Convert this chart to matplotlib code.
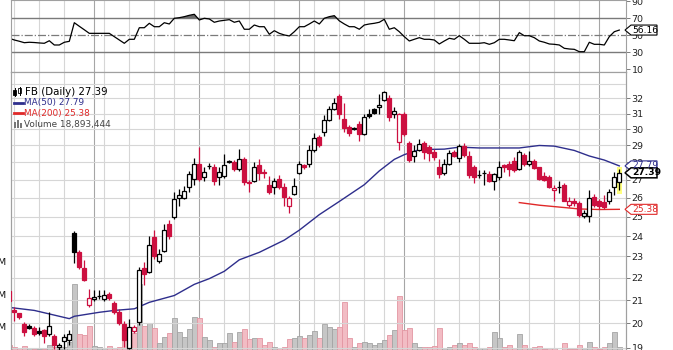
import numpy as np
import matplotlib
matplotlib.use('Agg')
import matplotlib.pyplot as plt
from matplotlib.patches import Polygon, Rectangle
from matplotlib.transforms import IdentityTransform
from matplotlib.ticker import NullLocator

# FB daily bars, Oct 5 2012 .. Apr 5 2013 (first bar sits half off the left edge)
day = list(range(-1, 122))

opens = [21.40, 20.55, 20.43, 19.97, 19.90, 19.80, 19.70, 19.74, 19.55, 19.50,
         19.05, 19.27, 19.32, 24.15, 23.20, 22.45, 20.80, 21.05, 21.20, 21.05,
         21.25, 20.88, 20.50, 19.98, 19.00, 19.68, 20.05, 22.45, 22.27, 23.95,
         22.80, 23.27, 24.60, 25.00, 26.00, 26.00, 26.60, 27.05, 27.90, 27.15,
         27.78, 27.75, 27.15, 27.20, 28.02, 28.00, 27.60, 28.20, 26.87, 26.95,
         27.85, 27.42, 26.70, 26.60, 27.05, 26.60, 25.55, 26.20, 27.40, 27.85,
         27.90, 28.75, 29.50, 29.80, 30.60, 31.30, 32.15, 30.65, 30.15, 30.08,
         30.30, 29.70, 31.00, 31.30, 31.40, 31.90, 32.00, 30.95, 29.20, 31.00,
         29.15, 28.35, 28.75, 29.15, 28.90, 28.60, 27.70, 27.40, 27.90, 28.60,
         28.25, 28.95, 28.35, 27.70, 27.25, 27.40, 27.35, 26.90, 27.15, 27.85,
         27.90, 28.10, 27.60, 28.45, 27.92, 28.08, 27.70, 27.20, 27.15, 26.40,
         26.58, 26.70, 25.63, 25.80, 25.70, 25.05, 25.05, 26.05, 25.80, 25.76,
         25.85, 26.60, 26.87]
highs = [21.45, 20.70, 20.45, 20.05, 19.97, 19.90, 19.85, 19.78, 20.47, 19.55,
         19.20, 19.55, 19.72, 24.25, 23.30, 22.85, 21.50, 21.45, 21.45, 21.45,
         21.35, 20.95, 20.60, 20.10, 20.20, 19.95, 22.50, 22.75, 24.00, 24.30,
         23.35, 24.60, 24.80, 26.30, 26.50, 26.62, 27.50, 28.25, 28.90, 27.70,
         27.95, 27.90, 27.75, 28.50, 28.15, 28.15, 28.80, 28.30, 27.00, 28.00,
         28.20, 27.60, 27.20, 27.10, 27.25, 26.80, 26.10, 27.10, 28.10, 27.90,
         29.05, 29.76, 29.65, 30.90, 31.50, 32.00, 32.30, 31.70, 30.25, 30.12,
         30.50, 31.00, 31.30, 31.35, 32.30, 32.50, 32.20, 31.40, 31.05, 31.10,
         29.30, 29.00, 29.40, 29.30, 29.00, 28.80, 28.20, 28.20, 28.70, 28.75,
         29.10, 29.15, 28.65, 27.85, 27.55, 27.55, 27.50, 27.40, 28.10, 27.90,
         28.10, 28.30, 28.70, 28.55, 28.69, 28.20, 27.75, 27.45, 27.25, 26.70,
         26.90, 26.80, 26.05, 26.00, 25.85, 25.35, 26.42, 26.20, 25.95, 26.17,
         26.50, 27.45, 27.60]
lows = [20.90, 20.10, 20.18, 19.50, 19.78, 19.50, 19.52, 19.20, 19.50, 18.95,
        18.90, 18.95, 19.10, 22.70, 22.40, 21.85, 20.70, 20.98, 21.05, 20.95,
        21.00, 20.40, 19.95, 19.05, 18.95, 19.60, 19.95, 21.65, 22.20, 22.90,
        22.70, 23.20, 23.85, 24.85, 25.55, 25.95, 26.30, 26.70, 26.95, 26.90,
        27.60, 26.70, 26.70, 27.10, 27.95, 27.50, 27.50, 26.70, 26.30, 26.85,
        27.00, 27.10, 26.20, 26.20, 26.50, 25.57, 25.20, 26.15, 27.35, 27.60,
        27.70, 28.60, 28.90, 29.60, 30.50, 31.20, 30.65, 29.85, 29.55, 29.95,
        29.25, 29.65, 30.70, 30.95, 31.00, 31.85, 30.50, 30.70, 28.70, 29.60,
        28.00, 28.00, 28.65, 28.20, 28.10, 28.15, 27.10, 27.25, 27.85, 28.30,
        28.00, 28.30, 27.10, 26.80, 27.10, 26.72, 26.85, 26.40, 27.00, 27.45,
        27.20, 27.45, 27.55, 27.80, 27.80, 27.60, 27.00, 26.95, 26.55, 25.85,
        26.25, 25.80, 25.50, 25.55, 25.00, 24.95, 24.70, 25.50, 25.40, 25.40,
        25.65, 26.17, 26.45]
closes = [20.95, 20.50, 20.26, 19.66, 19.82, 19.58, 19.60, 19.47, 19.90, 19.10,
          19.12, 19.45, 19.55, 23.22, 22.50, 21.90, 21.10, 21.15, 21.20, 21.22,
          21.08, 20.50, 20.02, 19.30, 19.86, 19.84, 22.36, 22.17, 23.56, 23.00,
          23.10, 24.32, 24.00, 25.94, 26.15, 26.36, 27.30, 27.90, 27.05, 27.45,
          27.80, 26.95, 27.45, 27.85, 28.05, 27.60, 28.20, 26.85, 26.82, 27.75,
          27.40, 27.38, 26.30, 26.90, 26.60, 26.05, 26.00, 26.65, 27.90, 27.70,
          28.75, 29.45, 29.00, 30.60, 31.30, 31.72, 31.00, 30.10, 29.75, 30.04,
          29.70, 30.80, 30.82, 31.02, 31.55, 32.42, 30.75, 31.15, 31.00, 29.73,
          28.11, 28.69, 29.10, 28.60, 28.55, 28.32, 27.35, 27.88, 28.55, 28.35,
          28.95, 28.45, 27.25, 27.15, 27.25, 27.40, 26.90, 27.30, 27.75, 27.70,
          27.60, 27.58, 28.60, 27.90, 28.10, 27.65, 27.05, 27.00, 26.60, 26.55,
          26.58, 25.85, 25.80, 25.70, 25.10, 25.20, 26.00, 25.63, 25.55, 25.50,
          26.30, 27.15, 27.39]

# volume in millions of shares
volume = [21.8, 19.2, 17.2, 20.3, 16.8, 15.0, 15.0, 15.7, 21.8, 19.2,
          15.7, 19.2, 25.7, 115.0, 39.5, 37.2, 51.0, 20.3, 19.2, 17.2,
          20.3, 17.2, 19.2, 32.6, 32.6, 40.6, 115.0, 51.4, 55.2, 47.5,
          24.5, 33.4, 41.0, 62.9, 42.3, 33.4, 46.5, 64.5, 62.9, 34.6,
          29.5, 19.2, 24.5, 24.5, 39.8, 26.9, 42.3, 46.0, 30.6, 32.2,
          32.2, 21.8, 26.9, 19.2, 16.8, 19.2, 30.6, 32.2, 35.7, 32.2,
          37.2, 43.4, 32.2, 53.7, 50.0, 46.0, 50.0, 88.5, 32.2, 19.2,
          24.5, 26.9, 25.4, 21.8, 24.5, 29.5, 37.2, 44.9, 97.2, 44.9,
          48.5, 24.5, 19.2, 19.2, 19.2, 20.3, 47.5, 17.2, 19.2, 21.8,
          25.4, 21.8, 25.4, 19.2, 16.8, 16.8, 19.2, 42.3, 32.2, 19.2,
          21.8, 16.8, 38.8, 21.8, 16.8, 19.2, 20.3, 15.2, 16.8, 16.8,
          14.2, 24.5, 15.2, 15.2, 21.8, 16.8, 26.9, 19.2, 15.2, 19.2,
          24.5, 41.4, 18.9]

# RSI(14)
rsi = [46.5, 44.5, 43.0, 41.3, 41.8, 41.5, 41.0, 40.6, 43.6, 38.6,
       38.6, 41.8, 42.9, 64.8, 60.6, 56.5, 52.3, 52.3, 52.3, 52.3,
       52.3, 48.4, 44.5, 40.6, 45.3, 45.3, 58.9, 58.9, 64.1, 60.1,
       60.1, 64.8, 63.3, 70.0, 70.7, 71.9, 73.5, 74.7, 68.0, 70.0,
       69.2, 65.3, 66.8, 67.6, 68.4, 65.3, 66.8, 57.1, 57.1, 62.1,
       60.1, 60.1, 51.2, 55.4, 52.3, 50.4, 49.2, 54.2, 60.1, 60.1,
       63.3, 66.8, 63.3, 70.0, 71.9, 73.1, 67.0, 63.3, 60.1, 60.1,
       57.1, 62.1, 63.3, 64.1, 65.3, 68.8, 57.1, 58.9, 54.2, 48.4,
       43.3, 45.3, 47.2, 45.3, 45.3, 44.5, 39.8, 43.3, 46.5, 45.3,
       49.5, 45.3, 40.6, 40.6, 40.6, 41.3, 39.4, 41.3, 45.3, 45.3,
       44.5, 43.6, 53.1, 49.5, 49.5, 47.2, 43.3, 41.8, 39.8, 39.4,
       38.6, 34.7, 33.9, 33.5, 30.7, 30.7, 41.8, 39.4, 39.4, 38.6,
       48.4, 54.2, 56.16]

ma50_day = [-1, 4, 7, 11, 12, 17, 20, 24, 27, 32, 36, 39, 42, 45, 49, 54, 57,
            61, 65, 70, 73, 76, 78, 81, 86, 89, 93, 97, 101, 105, 108, 112,
            115, 118, 121]
ma50 = [20.68, 20.55, 20.40, 20.20, 20.30, 20.47, 20.55, 20.62, 20.90, 21.20,
        21.70, 21.96, 22.30, 22.84, 23.20, 23.80, 24.30, 25.10, 25.80, 26.72,
        27.50, 28.17, 28.45, 28.75, 28.78, 28.90, 28.85, 28.85, 28.85, 29.00,
        28.96, 28.70, 28.37, 28.13, 27.79]
ma200_day = [101, 105, 109, 113, 117, 121]
ma200 = [25.74, 25.60, 25.50, 25.40, 25.37, 25.38]

# week and month grid positions (bar index)
week_lines = [0, 5, 10, 18, 23, 28, 32, 42, 47, 52, 60, 65, 70, 74, 84, 89,
              93, 103, 108, 113]
month_lines = [16, 37, 57, 78, 97, 117]

RED = '#cc1040'
NAVY = '#2e2e8c'
MA_RED = '#e02828'
GRID = '#d6d6d6'
GRID_DARK = '#a6a6a6'

W, H = 673, 350
L_PX, R_PX = 11, 626
XMIN, XMAX = -0.66, 122.34

fig = plt.figure(figsize=(W / 100, H / 100), dpi=100)
fig.patch.set_facecolor('white')


def add_ax(top, bottom, **kw):
    return fig.add_axes([L_PX / W, 1 - bottom / H, (R_PX - L_PX) / W,
                         (bottom - top) / H], **kw)


def style(ax):
    for s in ax.spines.values():
        s.set_color('#a0a0a0')
        s.set_linewidth(0.8)
    ax.set_xlim(XMIN, XMAX)
    ax.set_xticks([])
    for k in week_lines:
        ax.axvline(k, color=GRID, lw=0.8, zorder=0.5)
    for k in month_lines:
        ax.axvline(k, color=GRID_DARK, lw=0.8, zorder=0.5)


# ---- RSI panel ----
ax_rsi = add_ax(0, 71.7)
style(ax_rsi)
ax_rsi.set_ylim(7.2, 91.5)
ax_rsi.axhline(70, color='#7a7a7a', lw=1.0, zorder=1)
ax_rsi.axhline(30, color='#7a7a7a', lw=1.0, zorder=1)
ax_rsi.axhline(50, color='#7a7a7a', lw=0.9, ls='-.', zorder=1)
r = np.array(rsi)
ax_rsi.fill_between(day, r, 70, where=r > 70, interpolate=True,
                    color='#6a6a6a', lw=0, zorder=1.5)
ax_rsi.plot(day, r, color='black', lw=0.9, zorder=2)
ax_rsi.yaxis.tick_right()
ax_rsi.set_yticks([10, 30, 50, 70, 90])
ax_rsi.tick_params(axis='y', length=3, width=0.6, colors='#666',
                   labelcolor='#222', labelsize=6.8, pad=1)

# ---- volume (behind the price bars) ----
ax_vol = add_ax(71.7, 350)
ax_vol.set_zorder(0)
style(ax_vol)
ax_vol.set_ylim(14.15, 442.3)
prev = [opens[0]] + closes[:-1]
up = [c >= p for c, p in zip(closes, prev)]
ax_vol.bar(day, volume, width=1.0,
           color=['#c6c6c6' if u else '#f2bcc4' for u in up],
           edgecolor=['#a4a4a4' if u else '#e396a2' for u in up],
           lw=0.6, zorder=1)
ax_vol.set_yticks([50, 100, 150])
ax_vol.set_yticklabels(['50M', '100M', '150M'])
ax_vol.tick_params(axis='y', length=0, labelsize=6.8, pad=3, labelcolor='#111')

# ---- price panel ----
ax = add_ax(71.7, 350)
ax.set_zorder(1)
ax.patch.set_visible(False)
for s in ax.spines.values():
    s.set_color('#a0a0a0')
    s.set_linewidth(0.8)
ax.set_xlim(XMIN, XMAX)
ax.set_xticks([])
ax.set_yscale('log')
ax.set_ylim(18.92, 33.83)
for p in range(19, 34):
    ax.axhline(p, color=GRID, lw=0.8, zorder=0.5)
ax.yaxis.tick_right()
ax.yaxis.set_minor_locator(NullLocator())
ax.set_yticks(list(range(19, 33)))
ax.set_yticklabels([str(p) for p in range(19, 33)])
ax.tick_params(axis='y', length=3, width=0.6, colors='#666',
               labelcolor='#222', labelsize=6.8, pad=1)

# highlight behind the latest bar
ax.add_patch(Rectangle((day[-1] - 0.55, lows[-1] * 0.99), 1.1,
                       highs[-1] * 1.005 - lows[-1] * 0.99,
                       facecolor='#ffff80', edgecolor='none', zorder=2))

ax.plot(ma50_day, ma50, color=NAVY, lw=1.0, zorder=2.5)
ax.plot(ma200_day, ma200, color=MA_RED, lw=1.0, zorder=2.5)

for k, o, h, l, c, p in zip(day, opens, highs, lows, closes, prev):
    col = RED if c < p else 'black'
    ax.vlines(k, l, h, color=col, lw=0.9, zorder=3)
    lo, hi = min(o, c), max(o, c)
    face = col if c < o else 'white'
    ax.add_patch(Rectangle((k - 0.38, lo), 0.76, hi - lo, facecolor=face,
                           edgecolor=col, lw=0.9, zorder=4))


# value tags on the right axis
def tag(axis, val, text, color, bold=False, lw=0.8):
    y = axis.transData.transform((0, val))[1]
    x = R_PX - 1
    pts = [(x, y), (x + 6, y + 5), (x + 32, y + 5), (x + 32, y - 5), (x + 6, y - 5)]
    fig.add_artist(Polygon(pts, closed=True, transform=IdentityTransform(),
                           facecolor='white', edgecolor=color, lw=lw, zorder=10))
    fig.text((x + 7) / W, y / H, text, color=color, fontsize=6.6,
             fontweight='bold' if bold else 'normal', va='center', ha='left',
             zorder=11)


tag(ax_rsi, rsi[-1], '56.16', 'black')
tag(ax, ma50[-1], '27.79', NAVY)
tag(ax, closes[-1], '27.39', 'black', bold=True, lw=1.1)
tag(ax, ma200[-1], '25.38', MA_RED)


# legend block, top left of the price panel
def fx(x):
    return x / W


def fy(y):
    return 1 - y / H


for i, (bx, top, bot) in enumerate([(14.5, 89.5, 94.5), (19.5, 88.5, 93.0)]):
    fig.add_artist(plt.Line2D([fx(bx), fx(bx)], [fy(top - 1.5), fy(bot + 1.5)],
                              color='black', lw=0.7))
    fig.add_artist(Rectangle((fx(bx - 1.4), fy(bot)), 2.8 / W, (bot - top) / H,
                             facecolor='black' if i == 0 else 'white',
                             edgecolor='black', lw=0.6))
fig.text(fx(25), fy(91.8), 'FB (Daily) 27.39', fontsize=7.4, color='black',
         va='center', ha='left')

fig.add_artist(plt.Line2D([fx(13.5), fx(22.5)], [fy(102.8), fy(102.8)],
                          color=NAVY, lw=2.0))
fig.text(fx(23.5), fy(102.8), 'MA(50) 27.79', fontsize=6.4, color=NAVY,
         va='center', ha='left')
fig.add_artist(plt.Line2D([fx(13.5), fx(22.5)], [fy(113.4), fy(113.4)],
                          color=MA_RED, lw=2.0))
fig.text(fx(23.5), fy(113.4), 'MA(200) 25.38', fontsize=6.4, color=MA_RED,
         va='center', ha='left')
for bx, bh in [(14, 6), (17, 8), (20, 5)]:
    fig.add_artist(Rectangle((fx(bx), fy(128)), 2.4 / W, bh / H,
                             facecolor='#777777', edgecolor='none'))
fig.text(fx(23.5), fy(124.2), 'Volume 18,893,444', fontsize=6.4, color='#444444',
         va='center', ha='left')

fig.savefig('out.png', dpi=100, facecolor='white')
